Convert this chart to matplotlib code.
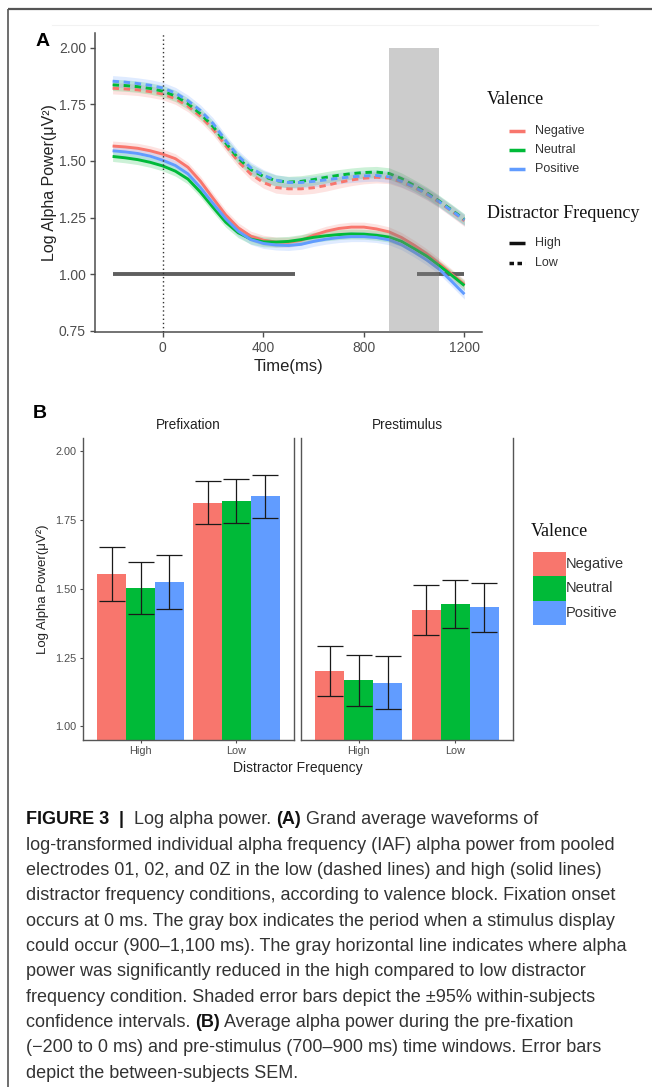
import numpy as np
import matplotlib
matplotlib.use("Agg")
import matplotlib.pyplot as plt

plt.rcParams['font.family'] = ['Liberation Sans', 'DejaVu Sans']

# ------------------------------------------------------------------
# Data
# ------------------------------------------------------------------
valence = ['Negative', 'Neutral', 'Positive']
colors = ['#F8766D', '#00BA38', '#619CFF']

# Panel A: grand average waveforms (log alpha power), every 50 ms
time_ms = np.arange(-200, 1201, 50)
low_neg = [1.821, 1.818, 1.814, 1.806, 1.795, 1.775, 1.742, 1.697, 1.640, 1.568,
           1.498, 1.442, 1.405, 1.383, 1.377, 1.377, 1.382, 1.392, 1.405, 1.416,
           1.424, 1.428, 1.425, 1.408, 1.383, 1.353, 1.318, 1.278, 1.236]
low_neu = [1.836, 1.833, 1.828, 1.820, 1.808, 1.787, 1.753, 1.708, 1.652, 1.580,
           1.512, 1.462, 1.432, 1.413, 1.407, 1.410, 1.418, 1.428, 1.437, 1.444,
           1.449, 1.451, 1.445, 1.422, 1.392, 1.360, 1.323, 1.283, 1.242]
low_pos = [1.852, 1.848, 1.842, 1.834, 1.822, 1.800, 1.766, 1.722, 1.665, 1.590,
           1.522, 1.470, 1.437, 1.415, 1.405, 1.405, 1.410, 1.417, 1.424, 1.430,
           1.434, 1.436, 1.430, 1.410, 1.385, 1.355, 1.320, 1.280, 1.240]
high_neg = [1.566, 1.562, 1.556, 1.545, 1.530, 1.510, 1.472, 1.410, 1.335, 1.262,
            1.205, 1.168, 1.150, 1.142, 1.141, 1.150, 1.172, 1.190, 1.202, 1.208,
            1.208, 1.200, 1.187, 1.162, 1.128, 1.090, 1.047, 1.000, 0.955]
high_neu = [1.520, 1.514, 1.506, 1.494, 1.478, 1.455, 1.420, 1.362, 1.295, 1.230,
            1.183, 1.155, 1.143, 1.142, 1.145, 1.153, 1.163, 1.170, 1.175, 1.178,
            1.177, 1.172, 1.164, 1.145, 1.113, 1.080, 1.038, 0.995, 0.950]
high_pos = [1.545, 1.540, 1.533, 1.521, 1.503, 1.480, 1.443, 1.382, 1.312, 1.245,
            1.190, 1.153, 1.136, 1.129, 1.127, 1.132, 1.145, 1.155, 1.162, 1.166,
            1.166, 1.162, 1.152, 1.130, 1.098, 1.063, 1.022, 0.968, 0.912]
ci_low = 0.025    # half width of 95% CI ribbon, low frequency
ci_high = 0.022   # half width of 95% CI ribbon, high frequency

stim_window = (900, 1100)
stim_top = 2.0
sig_level = 1.0
sig_segments = [(-200, 525), (1010, 1200)]

# Panel B: window averages (rows: High, Low; cols: valence)
freq_levels = ['High', 'Low']
prefix_mean = [[1.554, 1.502, 1.525], [1.813, 1.819, 1.837]]
prefix_sem = [[0.097, 0.094, 0.098], [0.078, 0.081, 0.078]]
prestim_mean = [[1.201, 1.167, 1.159], [1.424, 1.445, 1.433]]
prestim_sem = [[0.092, 0.094, 0.097], [0.091, 0.089, 0.089]]

caption_lines = [
    [('FIGURE 3', True), ('  |  ', True), ('Log alpha power. ', False), ('(A)', True),
     (' Grand average waveforms of', False)],
    [('log-transformed individual alpha frequency (IAF) alpha power from pooled', False)],
    [('electrodes 01, 02, and 0Z in the low (dashed lines) and high (solid lines)', False)],
    [('distractor frequency conditions, according to valence block. Fixation onset', False)],
    [('occurs at 0 ms. The gray box indicates the period when a stimulus display', False)],
    [('could occur (900\u20131,100 ms). The gray horizontal line indicates where alpha', False)],
    [('power was significantly reduced in the high compared to low distractor', False)],
    [('frequency condition. Shaded error bars depict the \u00b195% within-subjects', False)],
    [('confidence intervals. ', False), ('(B)', True),
     (' Average alpha power during the pre-fixation', False)],
    [('(\u2212200 to 0 ms) and pre-stimulus (700\u2013900 ms) time windows. Error bars', False)],
    [('depict the between-subjects SEM.', False)],
]

# ------------------------------------------------------------------
W, H = 652, 1087
fig = plt.figure(figsize=(W / 100, H / 100), dpi=100)


def box(l, t, r, b):
    return [l / W, 1 - b / H, (r - l) / W, (b - t) / H]


# overlay in pixel coords for frame, panel letters, legends, caption
ov = fig.add_axes([0, 0, 1, 1], zorder=5)
ov.set_xlim(0, W)
ov.set_ylim(H, 0)
ov.axis('off')

ov.plot([8, W], [9, 9], color='#555555', lw=1.6, solid_capstyle='butt')
ov.plot([8, 8], [9, H], color='#555555', lw=1.2, solid_capstyle='butt')
ov.plot([52, 598], [25, 25], color='#f2f2f2', lw=0.8)

ov.text(43, 42, 'A', fontsize=14, fontweight='bold', ha='center', va='center')
ov.text(40, 413, 'B', fontsize=14, fontweight='bold', ha='center', va='center')

axis_grey = '#4D4D4D'
title_col = '#222222'

# ========================================================================
# Panel A
# ========================================================================
axA = fig.add_axes(box(95, 33, 482, 332))
low = [low_neg, low_neu, low_pos]
high = [high_neg, high_neu, high_pos]

for ln, hn, col in zip(low, high, colors):
    ln = np.array(ln)
    hn = np.array(hn)
    axA.fill_between(time_ms, ln - ci_low, ln + ci_low, color=col, alpha=0.2, lw=0)
    axA.fill_between(time_ms, hn - ci_high, hn + ci_high, color=col, alpha=0.2, lw=0)
for hn, col in zip(high, colors):
    axA.plot(time_ms, hn, color=col, lw=2.1, solid_capstyle='butt')
for ln, col in zip(low, colors):
    axA.plot(time_ms, ln, color=col, lw=2.1, ls=(0, (2.2, 1.6)))

for a, b in sig_segments:
    axA.plot([a, b], [sig_level, sig_level], color='#5f5f5f', lw=2.8,
             solid_capstyle='butt', zorder=1.5)

axA.set_xlim(-270, 1270)
axA.set_ylim(0.745, 2.065)
ylo = axA.get_ylim()[0]
axA.fill_between(stim_window, ylo, stim_top, color='#808080', alpha=0.4, lw=0, zorder=3)
axA.axvline(0, color='#333333', lw=1.0, ls=(0, (1, 2)), zorder=4)

axA.set_xticks([0, 400, 800, 1200])
axA.set_yticks([0.75, 1.00, 1.25, 1.50, 1.75, 2.00])
axA.set_yticklabels(['0.75', '1.00', '1.25', '1.50', '1.75', '2.00'])
axA.tick_params(colors=axis_grey, labelsize=10, length=3.5, width=1.0, pad=3)
for s in ['top', 'right']:
    axA.spines[s].set_visible(False)
for s in ['left', 'bottom']:
    axA.spines[s].set_color(axis_grey)
    axA.spines[s].set_linewidth(1.1)
axA.set_xlabel('Time(ms)', fontsize=12, color=title_col, labelpad=3)
axA.set_ylabel('Log Alpha Power(\u03bcV\u00b2)', fontsize=11.5, color=title_col, labelpad=1)

# Panel A legends
ov.text(487, 100, 'Valence', fontsize=13, family='Liberation Serif', va='center',
        color='#111111')
for i, (lab, col) in enumerate(zip(valence, colors)):
    y = 130.7 + i * 19
    ov.plot([509, 525], [y, y], color=col, lw=2.5, solid_capstyle='butt')
    ov.text(535, y, lab, fontsize=9, va='center', color='#333333')
ov.text(487, 213, 'Distractor Frequency', fontsize=13, family='Liberation Serif',
        va='center', color='#111111')
for i, (lab, ls) in enumerate(zip(freq_levels, ['-', (0, (1.3, 1.0))])):
    y = 243.3 + i * 19.4
    ov.plot([509, 525], [y, y], color='#111111', lw=2.5, ls=ls, solid_capstyle='butt')
    ov.text(535, y, lab, fontsize=9, va='center', color='#333333')

# ========================================================================
# Panel B
# ========================================================================
axes_B = [fig.add_axes(box(83, 437.7, 294, 740)), fig.add_axes(box(301, 437.7, 513, 740))]
xpos = np.arange(len(freq_levels))
width = 0.3
for k, (ax, mean, sem, title) in enumerate(zip(axes_B, [prefix_mean, prestim_mean],
                                               [prefix_sem, prestim_sem],
                                               ['Prefixation', 'Prestimulus'])):
    mean = np.array(mean)
    sem = np.array(sem)
    for j, col in enumerate(colors):
        xs = xpos + (j - 1) * width
        ax.bar(xs, mean[:, j], width=width, color=col, edgecolor='none')
        ax.errorbar(xs, mean[:, j], yerr=sem[:, j], fmt='none', ecolor='#1a1a1a',
                    elinewidth=0.9, capsize=9.5, capthick=0.9)
    ax.set_xlim(-0.6, 1.6)
    ax.set_ylim(0.95, 2.05)
    ax.set_xticks(xpos)
    ax.set_xticklabels(freq_levels)
    ax.set_yticks([1.00, 1.25, 1.50, 1.75, 2.00])
    ax.set_yticklabels(['1.00', '1.25', '1.50', '1.75', '2.00'])
    ax.tick_params(colors=axis_grey, labelsize=7.8, length=2.5, width=0.8, pad=2)
    ax.spines['top'].set_visible(False)
    for s in ['left', 'right', 'bottom']:
        ax.spines[s].set_color('#555555')
        ax.spines[s].set_linewidth(1.0)
    ax.set_title(title, fontsize=9.8, color='#222222', pad=6)
    if k == 1:
        ax.tick_params(axis='y', left=False, labelleft=False)

axes_B[0].set_ylabel('Log Alpha Power(\u03bcV\u00b2)', fontsize=9.5, color=title_col, labelpad=5)
ov.text(298, 767.7, 'Distractor Frequency', fontsize=10, color=title_col,
        ha='center', va='center')

# Panel B legend
ov.text(531, 531, 'Valence', fontsize=13, family='Liberation Serif', va='center',
        color='#111111')
key_tops = [551.7, 576, 600.7]
for lab, col, top in zip(valence, colors, key_tops):
    ov.add_patch(plt.Rectangle((533, top), 32.5, 24.5, color=col, lw=0))
    ov.text(566, top + 12.5, lab, fontsize=10.5, va='center', color='#333333')

# ========================================================================
# Caption
# ========================================================================
cap_size = 12.95
y0 = 820
for i, segs in enumerate(caption_lines):
    y = y0 + i * 25.3
    prev = None
    for text, bold in segs:
        kw = dict(fontsize=cap_size, fontweight='bold' if bold else 'normal',
                  color='#111111' if bold else '#333333')
        if prev is None:
            prev = ov.text(26, y, text, va='center', ha='left', **kw)
        else:
            prev = ov.annotate(text, xy=(1, 0), xycoords=prev, va='bottom',
                               ha='left', **kw)

fig.savefig('out.png', dpi=100)
